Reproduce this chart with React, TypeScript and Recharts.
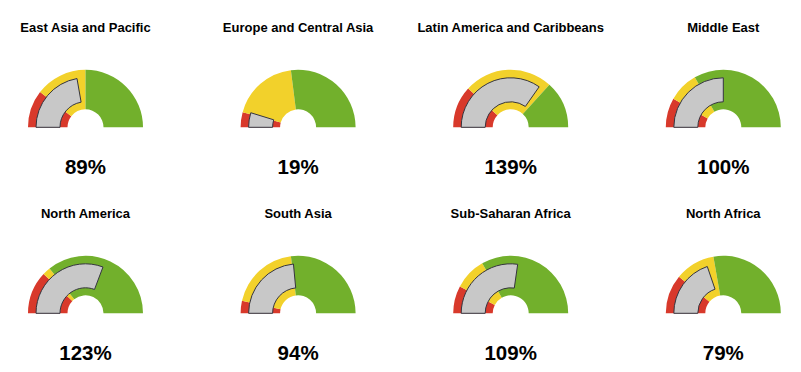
import React from 'react';
import { PieChart, Pie, Cell } from 'recharts';

// region gauges, values in % (gauge runs 0..200%)
const regions = [
  'East Asia and Pacific',
  'Europe and Central Asia',
  'Latin America and Caribbeans',
  'Middle East',
  'North America',
  'South Asia',
  'Sub-Saharan Africa',
  'North Africa',
];
const scores = [89, 19, 139, 100, 123, 94, 109, 79];
const redLimits = [42, 17, 47, 33, 48, 14, 31, 44];
const yellowLimits = [100, 92, 147, 67, 57, 92, 67, 89];
const gaugeMax = 200;

const RED = '#d8392b';
const YELLOW = '#f2d12b';
const GREEN = '#72b02c';
const NEEDLE = '#c8c8c8';

const W = 801;
const H = 372;
const colX = (i: number) => 85.5 + (i % 4) * 212.6;
const rowY = (i: number) => (i < 4 ? 127.3 : 313.3);

const FONT = '"Liberation Sans", Arial, Helvetica, sans-serif';

export default function App() {
  return (
    <div style={{ position: 'absolute', left: 0, top: 0, width: W, height: H, background: '#fff' }}>
      <PieChart width={W} height={H} margin={{ top: 0, right: 0, bottom: 0, left: 0 }}>
        {regions.map((r, i) => {
          const bands = [
            { name: 'red', value: redLimits[i] },
            { name: 'yellow', value: yellowLimits[i] - redLimits[i] },
            { name: 'green', value: gaugeMax - yellowLimits[i] },
          ];
          return (
            <Pie
              key={'bg' + i}
              data={bands}
              dataKey="value"
              cx={colX(i)}
              cy={rowY(i)}
              startAngle={180}
              endAngle={0}
              innerRadius={18}
              outerRadius={57.5}
              isAnimationActive={false}
              stroke="none"
            >
              <Cell fill={RED} stroke="none" />
              <Cell fill={YELLOW} stroke="none" />
              <Cell fill={GREEN} stroke="none" />
            </Pie>
          );
        })}
        {regions.map((r, i) => {
          const needle = [
            { name: 'score', value: scores[i] },
            { name: 'rest', value: gaugeMax - scores[i] },
          ];
          return (
            <Pie
              key={'nd' + i}
              data={needle}
              dataKey="value"
              cx={colX(i)}
              cy={rowY(i)}
              startAngle={180}
              endAngle={0}
              innerRadius={25.5}
              outerRadius={49.5}
              isAnimationActive={false}
            >
              <Cell fill={NEEDLE} stroke="#35353f" strokeWidth={1} />
              <Cell fill="none" stroke="none" />
            </Pie>
          );
        })}
      </PieChart>
      <svg
        width={W}
        height={H}
        style={{ position: 'absolute', left: 0, top: 0, pointerEvents: 'none' }}
      >
        {regions.map((r, i) => (
          <g key={r}>
            <text
              x={colX(i)}
              y={rowY(i) - 95}
              textAnchor="middle"
              fontFamily={FONT}
              fontWeight="bold"
              fontSize={13}
              fill="#000"
            >
              {r}
            </text>
            <text
              x={colX(i)}
              y={rowY(i) + 46.3}
              textAnchor="middle"
              fontFamily={FONT}
              fontWeight="bold"
              fontSize={20.5}
              fill="#000"
            >
              {scores[i]}%
            </text>
          </g>
        ))}
      </svg>
    </div>
  );
}
